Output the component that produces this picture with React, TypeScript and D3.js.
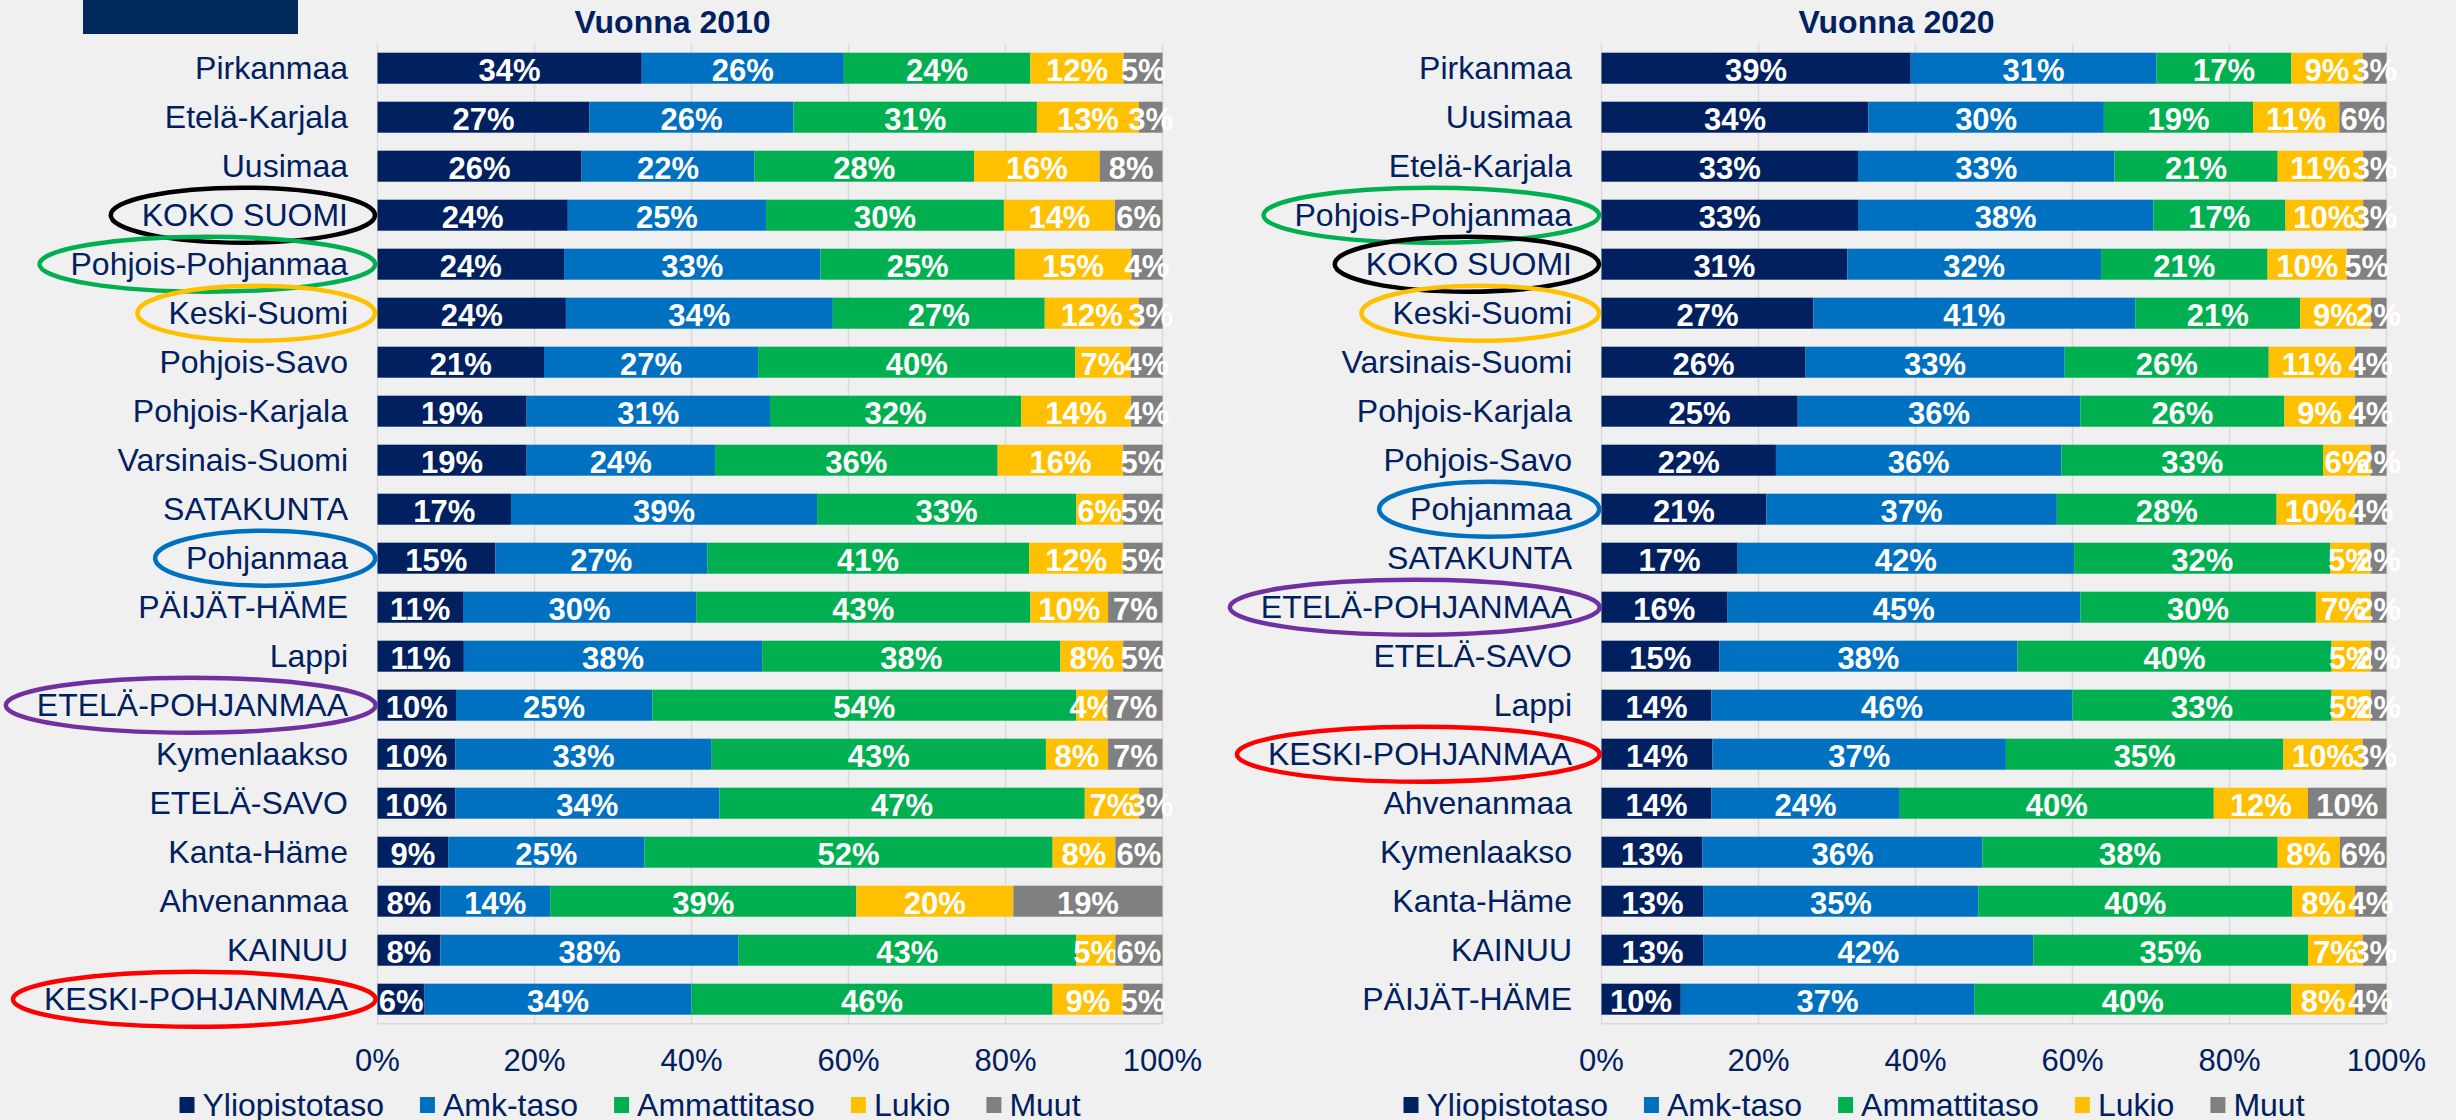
import React, { useEffect, useRef } from 'react';
import * as d3 from 'd3';

const seriesNames = ['Yliopistotaso', 'Amk-taso', 'Ammattitaso', 'Lukio', 'Muut'];
const seriesColors = ['#002060', '#0070C0', '#00B050', '#FFC000', '#808080'];
const tickValues = [0, 20, 40, 60, 80, 100];

const regions2010 = ['Pirkanmaa', 'Etelä-Karjala', 'Uusimaa', 'KOKO SUOMI', 'Pohjois-Pohjanmaa', 'Keski-Suomi', 'Pohjois-Savo', 'Pohjois-Karjala', 'Varsinais-Suomi', 'SATAKUNTA', 'Pohjanmaa', 'PÄIJÄT-HÄME', 'Lappi', 'ETELÄ-POHJANMAA', 'Kymenlaakso', 'ETELÄ-SAVO', 'Kanta-Häme', 'Ahvenanmaa', 'KAINUU', 'KESKI-POHJANMAA'];
const yliopisto2010 = [34, 27, 26, 24, 24, 24, 21, 19, 19, 17, 15, 11, 11, 10, 10, 10, 9, 8, 8, 6];
const amk2010 = [26, 26, 22, 25, 33, 34, 27, 31, 24, 39, 27, 30, 38, 25, 33, 34, 25, 14, 38, 34];
const ammatti2010 = [24, 31, 28, 30, 25, 27, 40, 32, 36, 33, 41, 43, 38, 54, 43, 47, 52, 39, 43, 46];
const lukio2010 = [12, 13, 16, 14, 15, 12, 7, 14, 16, 6, 12, 10, 8, 4, 8, 7, 8, 20, 5, 9];
const muut2010 = [5, 3, 8, 6, 4, 3, 4, 4, 5, 5, 5, 7, 5, 7, 7, 3, 6, 19, 6, 5];

const regions2020 = ['Pirkanmaa', 'Uusimaa', 'Etelä-Karjala', 'Pohjois-Pohjanmaa', 'KOKO SUOMI', 'Keski-Suomi', 'Varsinais-Suomi', 'Pohjois-Karjala', 'Pohjois-Savo', 'Pohjanmaa', 'SATAKUNTA', 'ETELÄ-POHJANMAA', 'ETELÄ-SAVO', 'Lappi', 'KESKI-POHJANMAA', 'Ahvenanmaa', 'Kymenlaakso', 'Kanta-Häme', 'KAINUU', 'PÄIJÄT-HÄME'];
const yliopisto2020 = [39, 34, 33, 33, 31, 27, 26, 25, 22, 21, 17, 16, 15, 14, 14, 14, 13, 13, 13, 10];
const amk2020 = [31, 30, 33, 38, 32, 41, 33, 36, 36, 37, 42, 45, 38, 46, 37, 24, 36, 35, 42, 37];
const ammatti2020 = [17, 19, 21, 17, 21, 21, 26, 26, 33, 28, 32, 30, 40, 33, 35, 40, 38, 40, 35, 40];
const lukio2020 = [9, 11, 11, 10, 10, 9, 11, 9, 6, 10, 5, 7, 5, 5, 10, 12, 8, 8, 7, 8];
const muut2020 = [3, 6, 3, 3, 5, 2, 4, 4, 2, 4, 2, 2, 2, 2, 3, 10, 6, 4, 3, 4];

const highlightNames = ['KOKO SUOMI', 'Pohjois-Pohjanmaa', 'Keski-Suomi', 'Pohjanmaa', 'ETELÄ-POHJANMAA', 'KESKI-POHJANMAA'];
const highlightColors = ['#000000', '#00B050', '#FFC000', '#0070C0', '#7030A0', '#FF0000'];

const FONT = "'Liberation Sans', Arial, Helvetica, sans-serif";
const NAVY = '#002060';

function drawPanel(svg: any, title: string, left: number, regions: string[], series: number[][]) {
  const plotW = 785;
  const x = d3.scaleLinear().domain([0, 100]).range([left, left + plotW]);
  const y = d3.scaleBand<string>().domain(regions).range([43.7, 1023.7]).paddingInner(0.367).paddingOuter(0.1835);
  const g = svg.append('g');

  // gridlines
  g.selectAll('line.grid').data(tickValues).enter().append('line')
    .attr('x1', (d: number) => x(d)).attr('x2', (d: number) => x(d))
    .attr('y1', 43.7).attr('y2', 1023.7)
    .attr('stroke', '#D9D9D9').attr('stroke-width', 1.5);
  g.append('line').attr('x1', x(0)).attr('x2', x(100)).attr('y1', 1023.7).attr('y2', 1023.7)
    .attr('stroke', '#D9D9D9').attr('stroke-width', 1.5);

  // title
  g.append('text').attr('x', left + 295).attr('y', 33).attr('text-anchor', 'middle')
    .attr('font-family', FONT).attr('font-size', 32).attr('font-weight', 'bold').attr('fill', NAVY).text(title);

  // bars
  regions.forEach((r, i) => {
    const vals = series.map((s) => s[i]);
    const total = d3.sum(vals);
    let cum = 0;
    vals.forEach((v, k) => {
      const x0 = x((cum / total) * 100);
      const x1 = x(((cum + v) / total) * 100);
      cum += v;
      g.append('rect').attr('x', x0).attr('y', y(r)).attr('width', x1 - x0).attr('height', y.bandwidth())
        .attr('fill', seriesColors[k]);
      g.append('text').attr('x', (x0 + x1) / 2).attr('y', (y(r) as number) + y.bandwidth() / 2).attr('dy', '0.4em')
        .attr('text-anchor', 'middle').attr('font-family', FONT).attr('font-size', 31).attr('font-weight', 'bold')
        .attr('fill', '#FFFFFF').text(v + '%');
    });
    const lbl = g.append('text').attr('x', left - 29.5).attr('y', (y(r) as number) + y.bandwidth() / 2).attr('dy', '0.35em')
      .attr('text-anchor', 'end').attr('font-family', FONT).attr('font-size', 32).attr('fill', NAVY).text(r);
    const hi = highlightNames.indexOf(r);
    if (hi >= 0) {
      const bb = (lbl.node() as SVGTextElement).getBBox();
      g.append('ellipse').attr('cx', bb.x + bb.width / 2 - 2).attr('cy', (y(r) as number) + y.bandwidth() / 2)
        .attr('rx', bb.width / 2 + 29).attr('ry', 27.5)
        .attr('fill', 'none').attr('stroke', highlightColors[hi]).attr('stroke-width', 4.5);
    }
  });

  // tick labels
  g.selectAll('text.tick').data(tickValues).enter().append('text')
    .attr('x', (d: number) => x(d)).attr('y', 1071).attr('text-anchor', 'middle')
    .attr('font-family', FONT).attr('font-size', 31).attr('fill', NAVY).text((d: number) => d + '%');

  // legend
  let lx = left - 198;
  seriesNames.forEach((name, k) => {
    g.append('rect').attr('x', lx).attr('y', 1097).attr('width', 15).attr('height', 16).attr('fill', seriesColors[k]);
    const t = g.append('text').attr('x', lx + 23).attr('y', 1116).attr('font-family', FONT).attr('font-size', 32)
      .attr('fill', NAVY).text(name);
    const w = (t.node() as SVGTextElement).getComputedTextLength();
    lx = lx + 23 + w + 36;
  });
}

export default function App() {
  const ref = useRef<SVGSVGElement>(null);
  useEffect(() => {
    const svg = d3.select(ref.current);
    svg.selectAll('*').remove();
    svg.append('rect').attr('width', 2456).attr('height', 1120).attr('fill', '#F0F0F0');
    svg.append('rect').attr('x', 83).attr('y', 0).attr('width', 215).attr('height', 34).attr('fill', '#00285A');
    drawPanel(svg, 'Vuonna 2010', 377.5, regions2010, [yliopisto2010, amk2010, ammatti2010, lukio2010, muut2010]);
    drawPanel(svg, 'Vuonna 2020', 1601.5, regions2020, [yliopisto2020, amk2020, ammatti2020, lukio2020, muut2020]);
  }, []);
  return (
    <div style={{ position: 'absolute', left: 0, top: 0 }}>
      <svg ref={ref} width={2456} height={1120} style={{ display: 'block' }} />
    </div>
  );
}
